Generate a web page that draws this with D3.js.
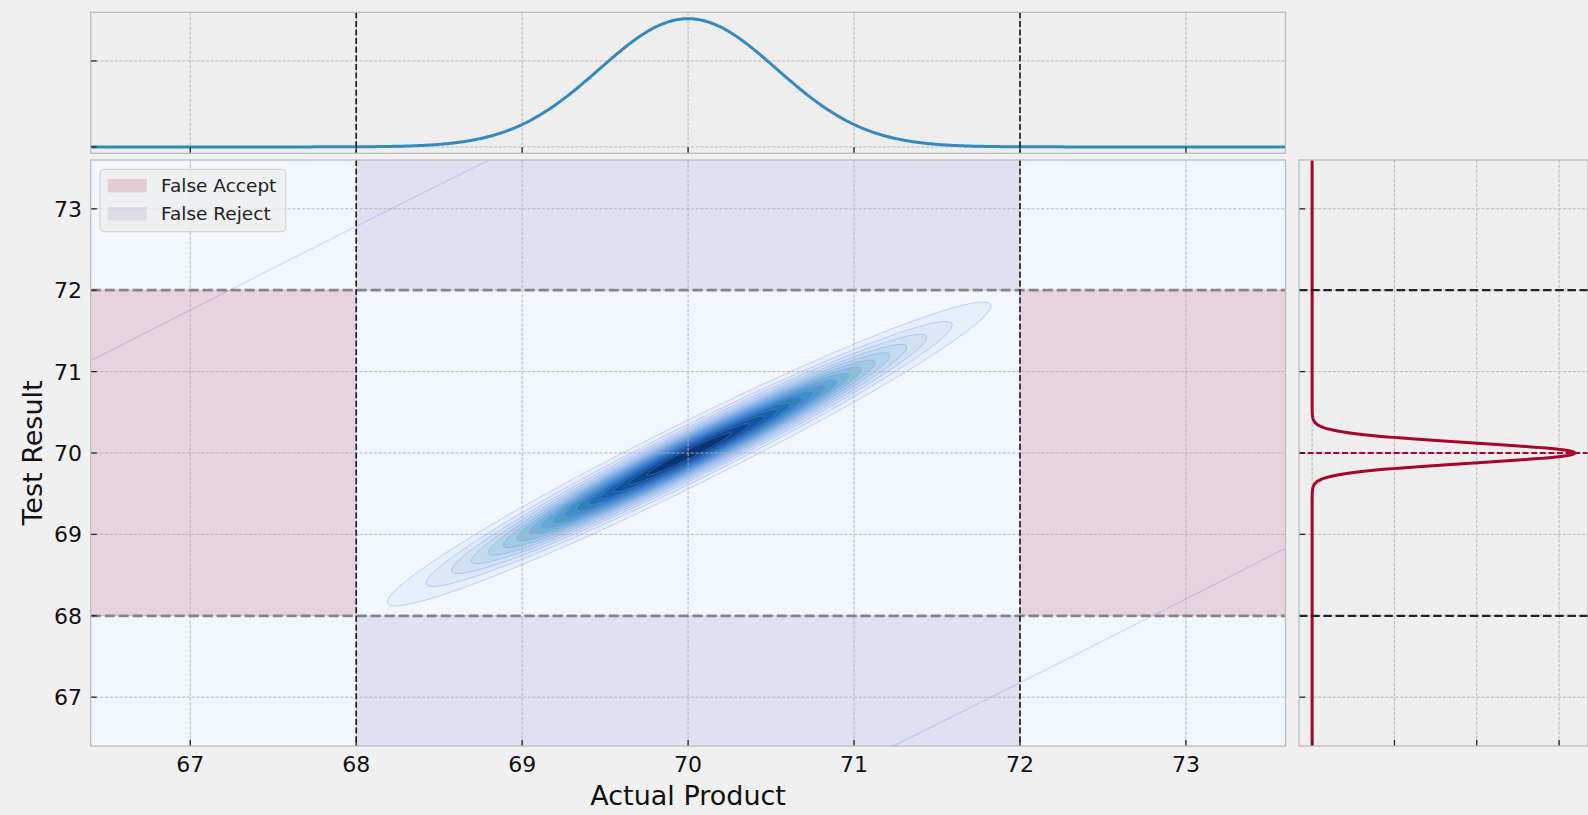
<!DOCTYPE html>
<html>
<head>
<meta charset="utf-8">
<script src="https://cdn.jsdelivr.net/npm/d3@7"></script>
<style>
  body { margin: 0; background: #f0f0f0; }
  svg { display: block; font-family: "DejaVu Sans", sans-serif; }
</style>
</head>
<body>
<svg id="chart" width="1588" height="815"></svg>
<script>
// values
const axisRange = [66.4, 73.6];
const xTicks = [67, 68, 69, 70, 71, 72, 73];
const yTicks = [67, 68, 69, 70, 71, 72, 73];
const specLimits = [68, 72];
const productMean = 70, productSD = 0.535;   // top marginal
const testMean = 70, testSD = 0.125;         // right marginal, spread of the test
const topPdfTicks = [0, 0.5];
const sidePdfTicks = [0, 1, 2, 3];
const legendLabels = ['False Accept', 'False Reject'];
const legendColors = ['#A60628', '#7A68A6'];
const nBands = 18;                           // filled bands, even steps in sqrt(density)

//------------------------------------------------------------------------------
const svg = d3.select('#chart');
const main = {l: 90.7, r: 1285.5, t: 160, b: 746};
const top_ = {l: 90.7, r: 1285.5, t: 12.3, b: 153.3};
const side = {l: 1299, r: 1588, t: 160, b: 746};

const normPdf = (d, s) => Math.exp(-d * d / (2 * s * s)) / (s * Math.sqrt(2 * Math.PI));
const topPeak = normPdf(0, productSD), sidePeak = normPdf(0, testSD);

var x = d3.scaleLinear().domain(axisRange).range([main.l, main.r]);
var y = d3.scaleLinear().domain(axisRange).range([main.b, main.t]);
var yTop = d3.scaleLinear().domain([-0.05 * topPeak, 1.05 * topPeak]).range([top_.b, top_.t]);
var xSide = d3.scaleLinear().domain([-0.05 * sidePeak, 1.05 * sidePeak]).range([side.l, side.r]);

const defs = svg.append('defs');
function clip(id, b) {
	defs.append('clipPath').attr('id', id)
		.append('rect').attr('x', b.l).attr('y', b.t)
		.attr('width', b.r - b.l).attr('height', b.b - b.t);
	return 'url(#' + id + ')';
}

function grid(g, b, xs, xv, ys, yv) {
	var gg = g.append('g').attr('stroke', '#b2b2b2').attr('stroke-width', 0.9)
		.attr('stroke-dasharray', '3.2,1.6');
	xv.forEach(function(v) {
		gg.append('line').attr('x1', xs(v)).attr('x2', xs(v)).attr('y1', b.t).attr('y2', b.b);
	});
	yv.forEach(function(v) {
		gg.append('line').attr('y1', ys(v)).attr('y2', ys(v)).attr('x1', b.l).attr('x2', b.r);
	});
}

function frame(g, b, xs, xv, ys, yv) {
	var tg = g.append('g').attr('stroke', '#222').attr('stroke-width', 1.3);
	xv.forEach(function(v) {
		tg.append('line').attr('x1', xs(v)).attr('x2', xs(v)).attr('y1', b.b).attr('y2', b.b - 6);
	});
	yv.forEach(function(v) {
		tg.append('line').attr('y1', ys(v)).attr('y2', ys(v)).attr('x1', b.l).attr('x2', b.l + 6);
	});
	g.append('rect').attr('x', b.l).attr('y', b.t)
		.attr('width', b.r - b.l).attr('height', b.b - b.t)
		.attr('fill', 'none').attr('stroke', '#bcbcbc').attr('stroke-width', 1.3);
}

//------------------------------------------------------------------------------
// main joint density panel
var gm = svg.append('g');
var mainClip = clip('clip-main', main);
var cg = gm.append('g').attr('clip-path', mainClip);

const lnPeak = Math.log(1 / (2 * Math.PI * productSD * testSD));
function logDensity(px, py) {
	var dx = px - productMean, dy = py - px - (testMean - productMean);
	return lnPeak - dx * dx / (2 * productSD * productSD) - dy * dy / (2 * testSD * testSD);
}

const q = 2;
const gx0 = main.l - 10, gy0 = main.t - 10;
const n = Math.ceil((main.r - main.l + 20) / q) + 1, m = Math.ceil((main.b - main.t + 20) / q) + 1;
var values = new Float64Array(n * m);
for (var j = 0; j < m; j++) {
	for (var k = 0; k < n; k++) {
		values[j * n + k] = logDensity(x.invert(gx0 + k * q), y.invert(gy0 + j * q));
	}
}
var contours = d3.contours().size([n, m]);
var gridPath = d3.geoPath(d3.geoIdentity().scale(q).translate([gx0, gy0]));
const bandColor = function(i) { return d3.interpolateBlues((i + 0.5) / nBands); };

cg.append('rect').attr('x', main.l).attr('y', main.t)
	.attr('width', main.r - main.l).attr('height', main.b - main.t)
	.attr('fill', bandColor(0));

var levels = d3.range(1, nBands).map(function(i) {
	return {i: i, t: lnPeak + 2 * Math.log(i / nBands)};
});
levels.forEach(function(d) {
	cg.append('path').attr('d', gridPath(contours.contour(values, d.t)))
		.attr('fill', bandColor(d.i));
});
// the line where the density rounds down to zero
var lineLevels = [Math.log(Number.MIN_VALUE)].concat(levels.map(function(d) { return d.t; }));
lineLevels.forEach(function(t) {
	cg.append('path').attr('d', gridPath(contours.contour(values, t)))
		.attr('fill', 'none').attr('stroke', 'rgba(125,135,255,0.42)').attr('stroke-width', 0.9);
});

// risk regions
var lo = specLimits[0], hi = specLimits[1];
var accept = [[axisRange[0], lo], [hi, axisRange[1]]];
var reject = [[axisRange[0], lo], [hi, axisRange[1]]];
accept.forEach(function(r) {
	cg.append('rect').attr('x', x(r[0])).attr('width', x(r[1]) - x(r[0]))
		.attr('y', y(hi)).attr('height', y(lo) - y(hi))
		.attr('fill', legendColors[0]).attr('fill-opacity', 0.15);
});
reject.forEach(function(r) {
	cg.append('rect').attr('y', y(r[1])).attr('height', y(r[0]) - y(r[1]))
		.attr('x', x(lo)).attr('width', x(hi) - x(lo))
		.attr('fill', legendColors[1]).attr('fill-opacity', 0.15);
});

grid(cg, main, x, xTicks, y, yTicks);

specLimits.forEach(function(v) {
	cg.append('line').attr('x1', main.l).attr('x2', main.r).attr('y1', y(v)).attr('y2', y(v))
		.attr('stroke', '#858585').attr('stroke-width', 2.8).attr('stroke-dasharray', '10,4');
});
specLimits.forEach(function(v) {
	cg.append('line').attr('x1', x(v)).attr('x2', x(v)).attr('y1', main.t).attr('y2', main.b)
		.attr('stroke', '#222').attr('stroke-width', 1.7).attr('stroke-dasharray', '6,2.6');
});
frame(gm, main, x, xTicks, y, yTicks);

gm.append('g').selectAll('text').data(xTicks).enter().append('text')
	.attr('x', function(d) { return x(d); }).attr('y', 771.7)
	.attr('text-anchor', 'middle').attr('font-size', 22).attr('fill', '#111')
	.text(function(d) { return d; });
gm.append('g').selectAll('text').data(yTicks).enter().append('text')
	.attr('x', 82).attr('y', function(d) { return y(d) + 8; })
	.attr('text-anchor', 'end').attr('font-size', 22).attr('fill', '#111')
	.text(function(d) { return d; });
gm.append('text').attr('x', (main.l + main.r) / 2).attr('y', 805)
	.attr('text-anchor', 'middle').attr('font-size', 27).attr('fill', '#111')
	.text('Actual Product');
gm.append('text').attr('transform', 'translate(42,' + ((main.t + main.b) / 2) + ') rotate(-90)')
	.attr('text-anchor', 'middle').attr('font-size', 27).attr('fill', '#111')
	.text('Test Result');

// legend
var lg = gm.append('g');
lg.append('rect').attr('x', 100).attr('y', 169.3).attr('width', 185.7).attr('height', 62.4)
	.attr('rx', 4).attr('fill', '#eeeeee').attr('fill-opacity', 0.8)
	.attr('stroke', '#d0d0d0').attr('stroke-width', 1);
legendLabels.forEach(function(t, i) {
	var cy = 185.7 + i * 28;
	lg.append('rect').attr('x', 107.7).attr('y', cy - 6.7).attr('width', 39).attr('height', 13.3)
		.attr('fill', legendColors[i]).attr('fill-opacity', 0.15);
	lg.append('text').attr('x', 161).attr('y', cy + 6.7)
		.attr('font-size', 18.5).attr('fill', '#222').text(t);
});

//------------------------------------------------------------------------------
// top marginal: actual product
var gt = svg.append('g');
var tg = gt.append('g').attr('clip-path', clip('clip-top', top_));
tg.append('rect').attr('x', top_.l).attr('y', top_.t)
	.attr('width', top_.r - top_.l).attr('height', top_.b - top_.t).attr('fill', '#eeeeee');
grid(tg, top_, x, xTicks, yTop, topPdfTicks);
var xs = d3.range(0, 601).map(function(i) { return axisRange[0] + i * (axisRange[1] - axisRange[0]) / 600; });
tg.append('path')
	.attr('d', d3.line()
		.x(function(d) { return x(d); })
		.y(function(d) { return yTop(normPdf(d - productMean, productSD)); })(xs))
	.attr('fill', 'none').attr('stroke', '#348ABD').attr('stroke-width', 3);
specLimits.forEach(function(v) {
	tg.append('line').attr('x1', x(v)).attr('x2', x(v)).attr('y1', top_.t).attr('y2', top_.b)
		.attr('stroke', '#222').attr('stroke-width', 1.7).attr('stroke-dasharray', '6,2.6');
});
frame(gt, top_, x, xTicks, yTop, topPdfTicks);

//------------------------------------------------------------------------------
// right marginal: test result
var gs = svg.append('g');
var sg = gs.append('g').attr('clip-path', clip('clip-side', side));
sg.append('rect').attr('x', side.l).attr('y', side.t)
	.attr('width', side.r - side.l).attr('height', side.b - side.t).attr('fill', '#eeeeee');
grid(sg, side, xSide, sidePdfTicks, y, yTicks);
var ys = d3.range(0, 1201).map(function(i) { return axisRange[0] + i * (axisRange[1] - axisRange[0]) / 1200; });
sg.append('path')
	.attr('d', d3.line()
		.x(function(d) { return xSide(normPdf(d - testMean, testSD)); })
		.y(function(d) { return y(d); })(ys))
	.attr('fill', 'none').attr('stroke', '#A60628').attr('stroke-width', 3);
specLimits.forEach(function(v) {
	sg.append('line').attr('x1', side.l).attr('x2', side.r).attr('y1', y(v)).attr('y2', y(v))
		.attr('stroke', '#222').attr('stroke-width', 2.2).attr('stroke-dasharray', '8.5,3.7');
});
sg.append('line').attr('x1', side.l).attr('x2', side.r).attr('y1', y(testMean)).attr('y2', y(testMean))
	.attr('stroke', '#A60628').attr('stroke-width', 1.8).attr('stroke-dasharray', '6,2.6');
frame(gs, side, xSide, sidePdfTicks, y, yTicks);
</script>
</body>
</html>
